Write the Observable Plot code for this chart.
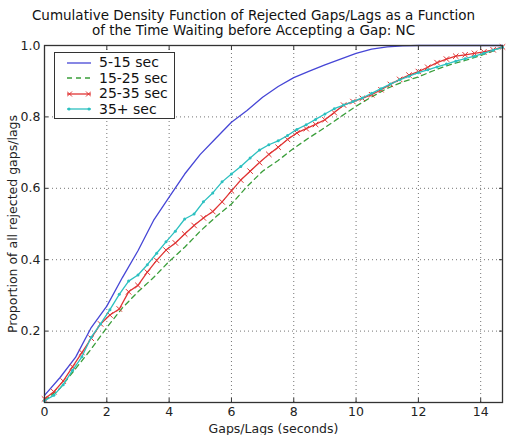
<!DOCTYPE html>
<html>
<head>
<meta charset="utf-8">
<script src="https://cdn.jsdelivr.net/npm/d3@7"></script>
<script src="https://cdn.jsdelivr.net/npm/@observablehq/plot@0.6"></script>
<style>
  body { margin: 0; background: #fff; }
  #wrap { position: relative; width: 507px; height: 435px; font-family: "DejaVu Sans", sans-serif; }
  #title { height: 40px; box-sizing: border-box; padding-top: 8px; text-align: center; font-size: 13.5px; line-height: 14.5px; color: #111; }
  #legend { position: absolute; left: 54px; top: 52px; width: 121px; height: 67px; box-sizing: border-box; border: 1px solid #333; background: #fff; font-size: 14px; line-height: 15px; color: #111; padding-top: 2px; }
  #legend .row { display: flex; align-items: center; height: 15.5px; line-height: 15px; }
  #legend svg { margin-left: 12px; margin-right: 8px; }
</style>
</head>
<body>
<div id="wrap">
  <div id="title">Cumulative Density Function of Rejected Gaps/Lags as a Function<br>of the Time Waiting before Accepting a Gap: NC</div>
  <div id="chart"></div>
  <div id="legend"></div>
</div>
<script>
// ---- data ----
const seriesNames = ["5-15 sec", "15-25 sec", "25-35 sec", "35+ sec"];
const seriesColors = ["#4646d6", "#3a9e3a", "#e03434", "#2cc0c0"];

const xCoarse = [0, 0.5, 1, 1.5, 2, 2.5, 3, 3.5, 4, 4.5, 5, 5.5, 6, 6.5, 7, 7.5, 8, 8.5, 9, 9.5, 10, 10.5, 11, 11.5, 12, 12.5, 13, 13.5, 14, 14.5, 14.7];
const blue = [0.02, 0.07, 0.127, 0.21, 0.27, 0.35, 0.425, 0.51, 0.575, 0.64, 0.695, 0.74, 0.785, 0.818, 0.855, 0.885, 0.91, 0.928, 0.946, 0.962, 0.978, 0.99, 0.996, 0.999, 1.0, 1.0, 1.0, 1.0, 1.0, 1.0, 1.0];
const green = [0.005, 0.04, 0.095, 0.15, 0.21, 0.265, 0.31, 0.35, 0.395, 0.435, 0.48, 0.52, 0.556, 0.605, 0.648, 0.678, 0.712, 0.742, 0.77, 0.8, 0.83, 0.856, 0.88, 0.898, 0.912, 0.93, 0.946, 0.958, 0.972, 0.988, 0.997];

const xFine = [0, 0.3, 0.6, 0.9, 1.2, 1.5, 1.8, 2.1, 2.4, 2.7, 3.0, 3.3, 3.6, 3.9, 4.2, 4.5, 4.8, 5.1, 5.4, 5.7, 6.0, 6.3, 6.6, 6.9, 7.2, 7.5, 7.8, 8.1, 8.4, 8.7, 9.0, 9.3, 9.6, 9.9, 10.2, 10.5, 10.8, 11.1, 11.4, 11.7, 12.0, 12.3, 12.6, 12.9, 13.2, 13.5, 13.8, 14.1, 14.4, 14.7];
const red = [0.01, 0.03, 0.06, 0.10, 0.14, 0.18, 0.22, 0.245, 0.262, 0.31, 0.328, 0.365, 0.398, 0.427, 0.447, 0.472, 0.496, 0.517, 0.535, 0.562, 0.593, 0.623, 0.648, 0.672, 0.695, 0.715, 0.737, 0.755, 0.767, 0.779, 0.792, 0.812, 0.833, 0.843, 0.852, 0.862, 0.876, 0.891, 0.905, 0.917, 0.927, 0.939, 0.952, 0.962, 0.97, 0.974, 0.978, 0.982, 0.988, 0.996];
const cyan = [0.005, 0.02, 0.05, 0.09, 0.128, 0.183, 0.22, 0.26, 0.303, 0.34, 0.357, 0.386, 0.418, 0.45, 0.48, 0.514, 0.528, 0.562, 0.587, 0.618, 0.64, 0.661, 0.685, 0.707, 0.722, 0.733, 0.748, 0.765, 0.778, 0.793, 0.808, 0.823, 0.833, 0.843, 0.853, 0.866, 0.879, 0.892, 0.904, 0.914, 0.924, 0.932, 0.94, 0.948, 0.956, 0.963, 0.97, 0.978, 0.987, 0.995];

const xTicks = [0, 2, 4, 6, 8, 10, 12, 14];
const yTicks = [0.2, 0.4, 0.6, 0.8, 1.0];

// ---- build tables ----
const toRows = (xs, ys) => xs.map((x, i) => ({x, y: ys[i]}));
const blueRows = toRows(xCoarse, blue);
const greenRows = toRows(xCoarse, green);
const redRows = toRows(xFine, red);
const cyanRows = toRows(xFine, cyan);

const plot = Plot.plot({
  width: 507,
  height: 395,
  marginLeft: 44,
  marginRight: 5,
  marginTop: 5,
  marginBottom: 33,
  style: {fontFamily: "DejaVu Sans, sans-serif", fontSize: "12.5px", color: "#222", overflow: "visible", background: "#fff"},
  x: {domain: [0, 14.7]},
  y: {domain: [0, 1]},
  marks: [
    Plot.gridX(xTicks, {stroke: "#000", strokeOpacity: 0.55, strokeDasharray: "1,3"}),
    Plot.gridY(yTicks, {stroke: "#000", strokeOpacity: 0.55, strokeDasharray: "1,3"}),
    Plot.line(blueRows, {x: "x", y: "y", stroke: seriesColors[0], strokeWidth: 1.3}),
    Plot.line(greenRows, {x: "x", y: "y", stroke: seriesColors[1], strokeWidth: 1.3, strokeDasharray: "5,4"}),
    Plot.line(redRows, {x: "x", y: "y", stroke: seriesColors[2], strokeWidth: 1.3}),
    Plot.dot(redRows, {x: "x", y: "y", symbol: "times", r: 2.6, stroke: seriesColors[2], strokeWidth: 1}),
    Plot.line(cyanRows, {x: "x", y: "y", stroke: seriesColors[3], strokeWidth: 1.3}),
    Plot.dot(cyanRows, {x: "x", y: "y", r: 1.5, fill: seriesColors[3], stroke: "none"}),
    Plot.axisX(xTicks, {anchor: "bottom", tickSize: -4, tickPadding: 9, label: "Gaps/Lags (seconds)", labelArrow: "none", labelAnchor: "center", labelOffset: 30, stroke: "#333"}),
    Plot.axisX(xTicks, {anchor: "top", tickSize: -4, tickFormat: () => "", label: null, stroke: "#333"}),
    Plot.axisY(yTicks, {anchor: "left", tickSize: -4, tickPadding: 8, tickFormat: d3.format(".1f"), label: "Proportion of all rejected gaps/lags", labelArrow: "none", labelAnchor: "center", labelOffset: 36, stroke: "#333"}),
    Plot.axisY(yTicks, {anchor: "right", tickSize: -4, tickFormat: () => "", label: null, stroke: "#333"}),
    Plot.frame({stroke: "#333", strokeWidth: 1.3})
  ]
});
document.getElementById("chart").appendChild(plot);

// ---- legend ----
const legend = document.getElementById("legend");
seriesNames.forEach((name, i) => {
  const row = document.createElement("div");
  row.className = "row";
  const ns = "http://www.w3.org/2000/svg";
  const s = document.createElementNS(ns, "svg");
  s.setAttribute("width", 24); s.setAttribute("height", 10);
  const l = document.createElementNS(ns, "line");
  l.setAttribute("x1", 0); l.setAttribute("x2", 24); l.setAttribute("y1", 5); l.setAttribute("y2", 5);
  l.setAttribute("stroke", seriesColors[i]); l.setAttribute("stroke-width", 1.3);
  if (i === 1) l.setAttribute("stroke-dasharray", "5,4");
  s.appendChild(l);
  if (i === 2) {
    [2.5, 21.5].forEach(cx => {
      const p = document.createElementNS(ns, "path");
      p.setAttribute("d", `M${cx-2.5},2.5L${cx+2.5},7.5M${cx-2.5},7.5L${cx+2.5},2.5`);
      p.setAttribute("stroke", seriesColors[i]); p.setAttribute("stroke-width", 1);
      s.appendChild(p);
    });
  }
  if (i === 3) {
    [2, 22].forEach(cx => {
      const c = document.createElementNS(ns, "circle");
      c.setAttribute("cx", cx); c.setAttribute("cy", 5); c.setAttribute("r", 1.5);
      c.setAttribute("fill", seriesColors[i]);
      s.appendChild(c);
    });
  }
  row.appendChild(s);
  const t = document.createElement("span");
  t.textContent = name;
  row.appendChild(t);
  legend.appendChild(row);
});
</script>
</body>
</html>
